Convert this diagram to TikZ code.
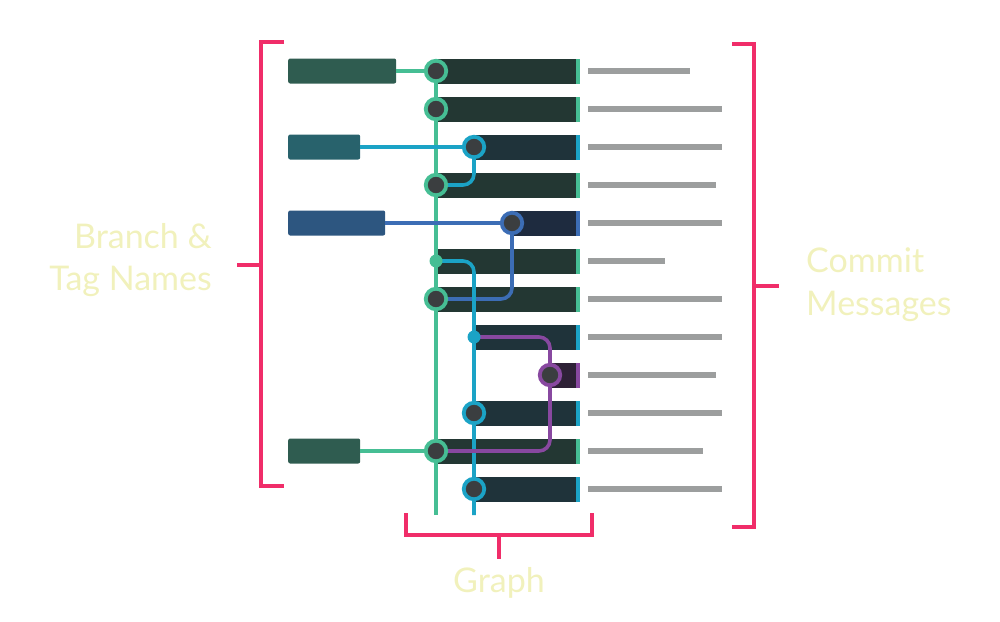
\documentclass[tikz,border=0pt]{standalone}
\usepackage{fontspec}
\setmainfont{Lato}
\definecolor{cg}{HTML}{46BE94}
\definecolor{ct}{HTML}{1BA3C6}
\definecolor{cb}{HTML}{3C6DB5}
\definecolor{cp}{HTML}{8848A0}
\definecolor{bg}{HTML}{233733}
\definecolor{bt}{HTML}{1F333A}
\definecolor{bb}{HTML}{1E2B3F}
\definecolor{bp}{HTML}{2E2136}
\definecolor{lg}{HTML}{2F5C50}
\definecolor{lt}{HTML}{28626C}
\definecolor{lb}{HTML}{2D5680}
\definecolor{nodefill}{HTML}{3B3E40}
\definecolor{pinkc}{HTML}{F02D69}
\definecolor{msgc}{HTML}{9C9E9E}
\definecolor{txtc}{HTML}{F1F1BC}
\begin{document}
\begin{tikzpicture}[x=1pt,y=-1pt,
  commit/.style={circle,inner sep=0pt,minimum size=20.5pt,line width=3.8pt,fill=nodefill,draw=#1},
  dot/.style={circle,inner sep=0pt,minimum size=13pt,fill=#1},
  labbox/.style={rectangle,rounded corners=2pt,inner sep=0pt,minimum height=25pt,anchor=west,fill=#1},
  lane/.style={line width=3.6pt,draw=#1,rounded corners=11pt},
  msg/.style={line width=6pt,draw=msgc},
  brk/.style={line width=4pt,draw=pinkc},
  lbl/.style={inner sep=0pt,text=txtc,font=\fontsize{34}{42}\selectfont}]
\useasboundingbox (0,0) rectangle (1000,621);
% bars, stripes and message lines
\foreach \y/\x/\bc/\sc/\len in {71/436/bg/cg/690,109/436/bg/cg/722,147/474/bt/ct/722,185/436/bg/cg/716,
  223/512/bb/cb/722,261/436/bg/cg/665,299/436/bg/cg/722,337/474/bt/ct/722,375/550/bp/cp/716,
  413/474/bt/ct/722,451/436/bg/cg/703,489/474/bt/ct/722}{
  \fill[\bc] (\x,\y-12.5) rectangle (576,\y+12.5);
  \fill[\sc] (576,\y-12.5) rectangle (580,\y+12.5);
  \draw[msg] (588,\y) -- (\len,\y);
}
% label boxes
\node[labbox=lg,minimum width=108pt] (lab1) at (288,71) {};
\node[labbox=lt,minimum width=72pt] (lab3) at (288,147) {};
\node[labbox=lb,minimum width=97pt] (lab5) at (288,223) {};
\node[labbox=lg,minimum width=72pt] (lab11) at (288,451) {};
% commit positions
\coordinate (p1) at (436,71);
\coordinate (p2) at (436,109);
\coordinate (p3) at (474,147);
\coordinate (p4) at (436,185);
\coordinate (p5) at (512,223);
\coordinate (p6) at (436,261);
\coordinate (p7) at (436,299);
\coordinate (p8) at (474,337);
\coordinate (p9) at (550,375);
\coordinate (p10) at (474,413);
\coordinate (p11) at (436,451);
\coordinate (p12) at (474,489);
\coordinate (gEnd) at (436,515);
\coordinate (tEnd) at (474,515);
% lanes
\draw[lane=cg] (p1) -- (gEnd);
\draw[lane=cg] (lab1.east) -- (p1);
\draw[lane=cg] (lab11.east) -- (p11);
\draw[lane=ct] (lab3.east) -- (p3);
\draw[lane=ct] (p3) |- (p4);
\draw[lane=cb] (lab5.east) -- (p5);
\draw[lane=cb] (p5) |- (p7);
\draw[lane=ct] (p6) -| (tEnd);
\draw[lane=cp] (p8) -| (p9) |- (p11);
% commits
\node[commit=cg] (c1) at (p1) {};
\node[commit=cg] (c2) at (p2) {};
\node[commit=ct] (c3) at (p3) {};
\node[commit=cg] (c4) at (p4) {};
\node[commit=cb] (c5) at (p5) {};
\node[dot=cg] (c6) at (p6) {};
\node[commit=cg] (c7) at (p7) {};
\node[dot=ct] (c8) at (p8) {};
\node[commit=cp] (c9) at (p9) {};
\node[commit=ct] (c10) at (p10) {};
\node[commit=cg] (c11) at (p11) {};
\node[commit=ct] (c12) at (p12) {};
% brackets
\draw[brk] (284,41.5) -- (261,41.5) -- (261,486) -- (284,486);
\coordinate (lm) at (261,265);
\coordinate (lmEnd) at (237,265);
\draw[brk] (lm) -- (lmEnd);
\draw[brk] (732,44) -- (754,44) -- (754,527) -- (732,527);
\coordinate (rm) at (754,286);
\coordinate (rmEnd) at (779,286);
\draw[brk] (rm) -- (rmEnd);
\draw[brk] (405.5,513) -- (405.5,535) -- (592,535) -- (592,513);
\coordinate (bm) at (499,535);
\coordinate (bmEnd) at (499,559);
\draw[brk] (bm) -- (bmEnd);
% texts
\node[lbl,anchor=base east] (t1) at (212,248) {Branch \&};
\node[lbl,anchor=base east] (t2) at (212,290) {Tag Names};
\node[lbl,anchor=base west] (t3) at (806,272) {Commit};
\node[lbl,anchor=base west] (t4) at (806,315) {Messages};
\node[lbl,anchor=base] (t5) at (499,592) {Graph};
\end{tikzpicture}
\end{document}
